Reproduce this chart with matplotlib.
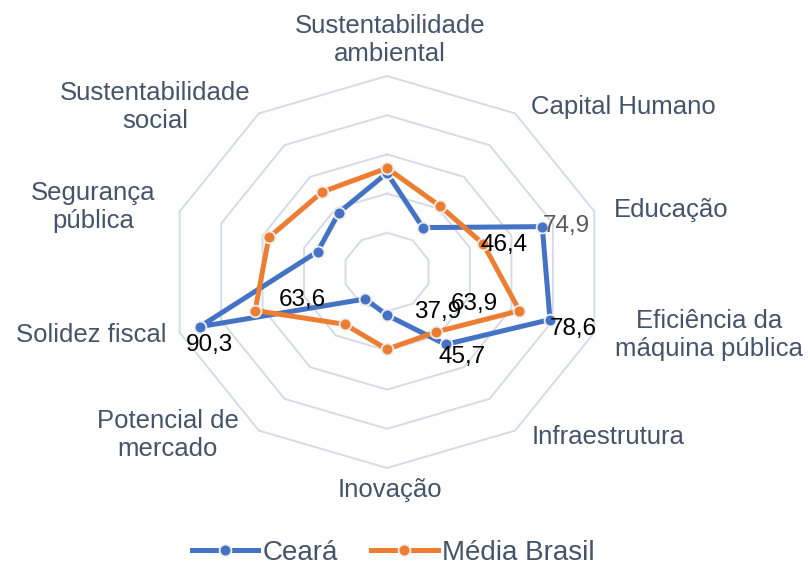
import numpy as np
import matplotlib
matplotlib.use("Agg")
import matplotlib.pyplot as plt

categories = ["Sustentabilidade\nambiental", "Capital Humano", "Educação",
              "Eficiência da\nmáquina pública", "Infraestrutura", "Inovação",
              "Potencial de\nmercado", "Solidez fiscal", "Segurança\npública",
              "Sustentabilidade\nsocial"]
ceara = [50.5, 28.0, 74.9, 78.6, 45.7, 22.0, 17.0, 90.3, 33.5, 37.5]
brasil = [53.0, 41.5, 46.4, 63.9, 37.9, 39.4, 33.0, 63.6, 57.0, 50.5]
series_names = ["Ceará", "Média Brasil"]
ring_levels = [20, 40, 60, 80, 100]

plt.rcParams["font.family"] = ["Liberation Sans", "DejaVu Sans"]

# ---- layout (pixels) ----
W, H = 810, 569
CX, CY = 387, 272          # centre of the radar in pixels
SX, SY = 2.18, 1.96        # pixels per unit (horizontal / vertical)

fig = plt.figure(figsize=(W / 100, H / 100), dpi=100)
ax = fig.add_axes([0, 0, 1, 1])
ax.set_xlim(-CX / SX, (W - CX) / SX)
ax.set_ylim(-(H - CY) / SY, CY / SY)
ax.axis("off")

n = len(categories)
ang = np.arange(n) * 2 * np.pi / n


def xy(vals):
    v = np.asarray(vals, dtype=float)
    return v * np.sin(ang), v * np.cos(ang)


grid_col = "#D6DBE4"
for lv in ring_levels:
    gx, gy = xy([lv] * n)
    ax.plot(np.append(gx, gx[0]), np.append(gy, gy[0]), color=grid_col, lw=1.4, zorder=1)

colors = ["#4472C4", "#ED7D31"]
for vals, col, name in zip([ceara, brasil], colors, series_names):
    px, py = xy(vals)
    ax.plot(np.append(px, px[0]), np.append(py, py[0]), color=col, lw=3.6,
            marker="o", ms=8.5, mfc=col, mec="#EEEEEE", mew=1.3, zorder=3,
            label=name, solid_joinstyle="round")

# category labels (pixel centre positions)
label_pos = [(390, 40), (623, 107), (671, 210), (709, 335), (608, 437),
             (390, 490), (168, 435), (91, 335), (93, 207), (155, 107)]
txt_col = "#44546A"
for cat, (lx, ly) in zip(categories, label_pos):
    ax.text((lx - CX) / SX, (CY - ly) / SY, cat, ha="center", va="center",
            fontsize=18.5, color=txt_col, linespacing=1.22, zorder=5)

# data labels: (x, y, values, index, pixel offset dx, dy, colour)
cx_, cy_ = xy(ceara)
bx_, by_ = xy(brasil)
data_labels = [
    (cx_, cy_, ceara, 2, 24, 1, "#595959"),
    (cx_, cy_, ceara, 3, 23, -9, "black"),
    (cx_, cy_, ceara, 4, 17, -13, "black"),
    (cx_, cy_, ceara, 7, 10, -18, "black"),
    (bx_, by_, brasil, 2, 21, -1, "black"),
    (bx_, by_, brasil, 3, -45, 7, "black"),
    (bx_, by_, brasil, 4, 2, 20, "black"),
    (bx_, by_, brasil, 7, 47, 11, "black"),
]
for sx_, sy_, vals, i, dx, dy, col in data_labels:
    ax.annotate(f"{vals[i]:.1f}".replace(".", ","), (sx_[i], sy_[i]),
                xytext=(dx, dy), textcoords="offset pixels", ha="center", va="center",
                fontsize=17.5, color=col, zorder=6)

leg = ax.legend(loc="center", bbox_to_anchor=(393 / W, 1 - 553 / H), ncol=2,
                frameon=False, fontsize=20, handlelength=2.4, columnspacing=1.2,
                handletextpad=0.15, labelcolor=txt_col)

fig.savefig("out.png", dpi=100)
